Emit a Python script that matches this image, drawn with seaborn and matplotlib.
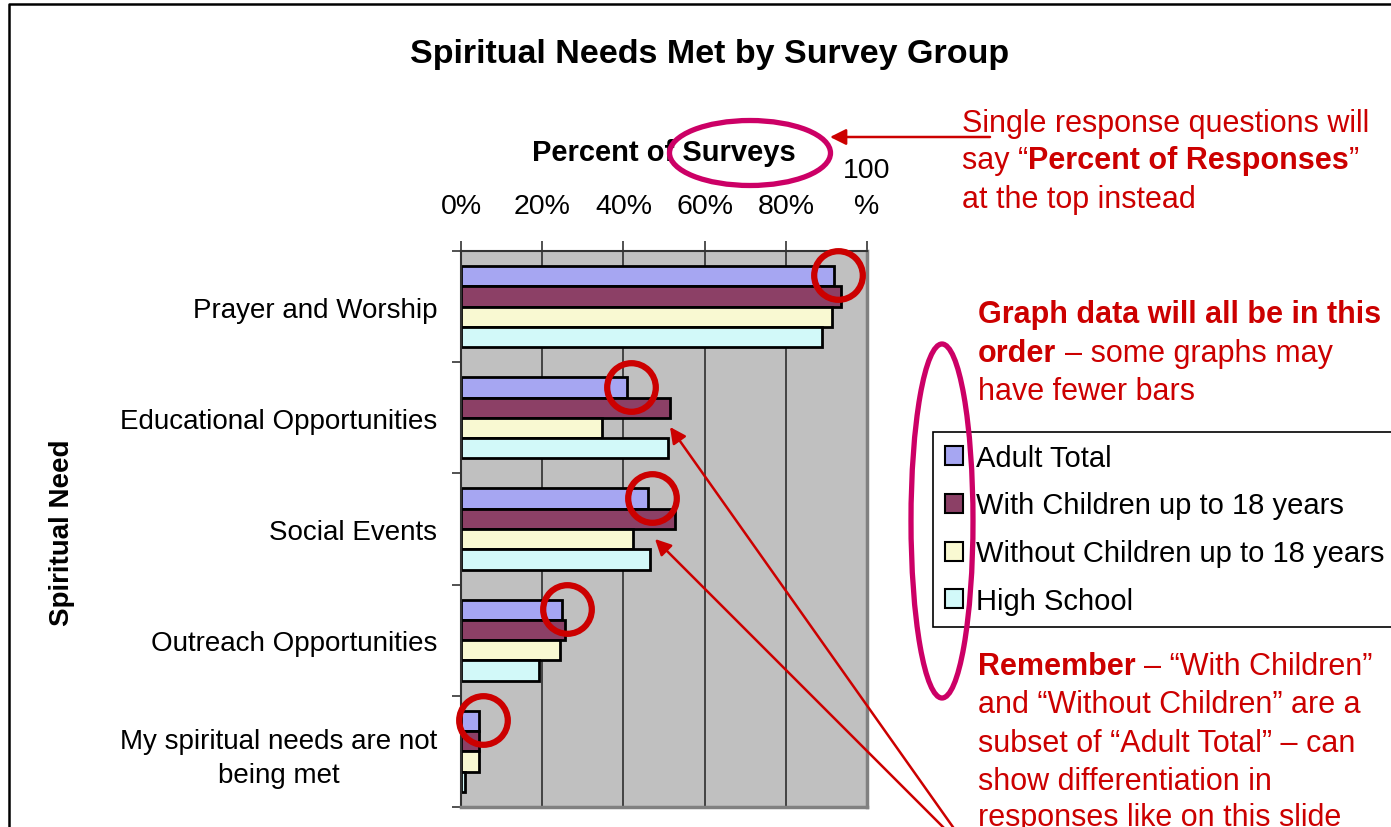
import numpy as np
import pandas as pd
import matplotlib.pyplot as plt
import seaborn as sns
from matplotlib.patches import Ellipse

# Dados do gráfico (percentuais)
necessidades = ['Prayer and Worship', 'Educational Opportunities', 'Social Events',
                'Outreach Opportunities', 'My spiritual needs are not\nbeing met']
grupos = ['Adult Total', 'With Children up to 18 years',
          'Without Children up to 18 years', 'High School']
adult_total = [91.9, 40.8, 46.0, 25.0, 4.5]
com_filhos = [93.6, 51.6, 52.8, 25.5, 4.5]
sem_filhos = [91.3, 34.7, 42.4, 24.3, 4.5]
ensino_medio = [89.0, 51.1, 46.6, 19.2, 1.1]
ticks_x = [0, 20, 40, 60, 80, 100]
rotulos_x = ['0%', '20%', '40%', '60%', '80%', '100\n%']
cores = ['#9999FF', '#993366', '#FFFFCC', '#CCFFFF']

VERMELHO = '#CC0000'
MAGENTA = '#CC0066'

sns.set_theme(style='white')
plt.rcParams['font.family'] = ['Liberation Sans', 'DejaVu Sans']
plt.rcParams['text.color'] = 'black'
plt.rcParams['axes.labelcolor'] = 'black'
plt.rcParams['xtick.color'] = 'black'
plt.rcParams['ytick.color'] = 'black'

df = pd.DataFrame({
    'necessidade': necessidades * 4,
    'grupo': np.repeat(grupos, len(necessidades)),
    'valor': adult_total + com_filhos + sem_filhos + ensino_medio,
})

fig = plt.figure(figsize=(13.91, 8.28), dpi=100)
W, H = 1391, 828
ax = fig.add_axes([461 / W, (H - 808) / H, 406 / W, 556 / H])

sns.barplot(data=df, x='valor', y='necessidade', hue='grupo', hue_order=grupos,
            order=necessidades, orient='h', palette=cores, width=0.73,
            edgecolor='black', linewidth=2, ax=ax)

handles, labels = ax.get_legend_handles_labels()
ax.get_legend().remove()

ax.set_facecolor('#C0C0C0')
ax.set_xlim(0, 100)
ax.set_ylim(len(necessidades) - 0.5, -0.5)
ax.xaxis.tick_top()
ax.set_xticks(ticks_x)
ax.set_xticklabels(rotulos_x)
ax.get_xticklabels()[-1].set_linespacing(1.5)
ax.tick_params(axis='x', which='major', length=7, width=1.2, color='#333333',
               pad=16, labelsize=20.5, top=True, bottom=False)
ax.grid(axis='x', color='#222222', lw=1.1)
ax.set_axisbelow(True)

ax.set_yticks(np.arange(-0.5, len(necessidades), 1), minor=True)
ax.tick_params(axis='y', which='major', length=0, pad=17, labelsize=20)
ax.tick_params(axis='y', which='minor', length=6.5, width=1.2, color='#333333', left=True)
ax.get_yticklabels()[-1].set_multialignment('center')
ax.get_yticklabels()[-1].set_linespacing(1.4)

for lado in ['top', 'left']:
    ax.spines[lado].set_color('#333333')
    ax.spines[lado].set_linewidth(1.5)
for lado in ['right', 'bottom']:
    ax.spines[lado].set_color('#808080')
    ax.spines[lado].set_linewidth(2.5)

ax.set_xlabel('Percent of Surveys', fontsize=21, fontweight='bold')
ax.xaxis.set_label_position('top')
ax.xaxis.set_label_coords(0.5, (808 - 153) / 556)
ax.xaxis.label.set_va('center')
ax.set_ylabel('Spiritual Need', fontsize=20, fontweight='bold')
ax.yaxis.set_label_coords((62 - 461) / 406, (808 - 533) / 556)
ax.yaxis.label.set_va('center')

# Círculos vermelhos nas pontas das barras de "Adult Total"
ax.plot(np.array(adult_total) + 1, np.arange(len(necessidades)) - 0.28, ls='none',
        marker='o', ms=35, mfc='none', mec=VERMELHO, mew=4.5, clip_on=False, zorder=5)

fig.text(710 / W, 1 - 55 / H, 'Spiritual Needs Met by Survey Group', ha='center',
         va='center', fontsize=24.5, fontweight='bold')

leg = fig.legend(handles, labels, loc='upper left', bbox_to_anchor=(933 / W, 1 - 433 / H),
                 frameon=True, fancybox=False, edgecolor='black', framealpha=1,
                 fontsize=21, handlelength=0.62, handleheight=0.62, handletextpad=0.45,
                 labelspacing=0.68, borderpad=0.4, borderaxespad=0)
leg.get_frame().set_linewidth(1.2)
for h in leg.legend_handles:
    h.set_linewidth(1.5)

# Camada de anotações em pixels
over = fig.add_axes([0, 0, 1, 1], zorder=10)
over.set_xlim(0, W)
over.set_ylim(H, 0)
over.axis('off')

over.plot([9, 9, W], [H, 5, 5], color='black', lw=1.8)

over.add_patch(Ellipse((750, 154), 161, 65, fill=False, ec=MAGENTA, lw=3.8))
over.add_patch(Ellipse((942, 522), 62, 354, fill=False, ec=MAGENTA, lw=3.8))

seta = dict(arrowstyle='-|>', color=VERMELHO, lw=1.8, mutation_scale=24, shrinkA=0, shrinkB=0)
over.annotate('', xy=(830, 138), xytext=(990, 138), arrowprops=seta)
over.annotate('', xy=(670, 428), xytext=(960, 838), arrowprops=seta, annotation_clip=False)
over.annotate('', xy=(655, 540), xytext=(953, 838), arrowprops=seta, annotation_clip=False)


def linha(x, y, partes, tam=22):
    prev = None
    for txt, negrito, espaco in partes:
        peso = 'bold' if negrito else 'normal'
        if prev is None:
            prev = over.text(x, y, txt, color=VERMELHO, fontsize=tam, fontweight=peso,
                             ha='left', va='baseline')
        else:
            prev = over.annotate(txt, xy=(1, 0.5), xycoords=prev, xytext=(espaco, 0),
                                 textcoords='offset points', color=VERMELHO, fontsize=tam,
                                 fontweight=peso, ha='left', va='center')


linha(962, 131.7, [('Single response questions will', False, 0)])
linha(962, 169.3, [('say \u201c', False, 0), ('Percent of Responses', True, 0),
                   ('\u201d', False, 0)])
linha(962, 208, [('at the top instead', False, 0)])

linha(978, 323.3, [('Graph data will all be in this', True, 0)])
linha(978, 361.7, [('order', True, 0), ('\u2013 some graphs may', False, 6)])
linha(978, 400, [('have fewer bars', False, 0)])

linha(978, 675, [('Remember', True, 0), ('\u2013 \u201cWith Children\u201d', False, 6)])
linha(978, 713.3, [('and \u201cWithout Children\u201d are a', False, 0)])
linha(978, 751.7, [('subset of \u201cAdult Total\u201d \u2013 can', False, 0)])
linha(978, 790, [('show differentiation in', False, 0)])
linha(978, 826, [('responses like on this slide', False, 0)])

fig.savefig('out.png', dpi=100)
